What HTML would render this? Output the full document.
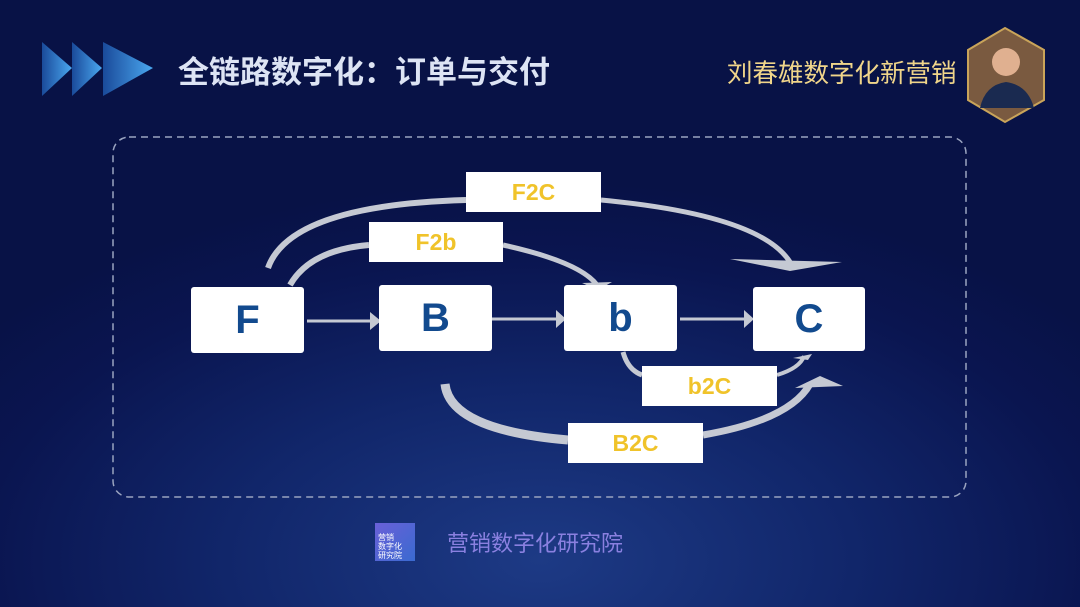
<!DOCTYPE html>
<html><head><meta charset="utf-8"><style>
*{margin:0;padding:0;box-sizing:border-box}
body{width:1080px;height:607px;overflow:hidden;position:relative;font-family:"Liberation Sans","Noto Sans CJK SC",sans-serif;
background:radial-gradient(ellipse 700px 380px at 540px 560px,#1d3a85 0%,#11266a 45%,#0a1550 80%,#081246 100%);}
.box{position:absolute;background:#fff;border-radius:3px;display:flex;align-items:center;justify-content:center;color:#124a8e;font-weight:bold;font-size:40px}
.lab{position:absolute;background:#fff;display:flex;align-items:center;justify-content:center;color:#f0c32a;font-weight:bold;font-size:23px}
.t{position:absolute;white-space:nowrap}
</style></head><body>
<svg width="1080" height="607" style="position:absolute;left:0;top:0">
<defs><linearGradient id="ch" x1="0" x2="1"><stop offset="0" stop-color="#1a4a9a"/><stop offset="1" stop-color="#4aa8f0"/></linearGradient></defs>
<polygon points="42,42 72,68 42,96" fill="url(#ch)"/>
<polygon points="72,42 102,68 72,96" fill="url(#ch)"/>
<polygon points="103,42 153,68 103,96" fill="url(#ch)"/>
<polygon points="1005,28 1044,50 1044,100 1005,122 968,100 968,50" fill="#7a5a40" stroke="#c9a45a" stroke-width="2"/>
<circle cx="1006" cy="62" r="14" fill="#e0b090"/>
<path d="M980,108 Q985,85 1006,82 Q1028,85 1034,108 Z" fill="#1a2a50"/>
<rect x="113" y="137" width="853" height="360" rx="16" fill="none" stroke="#9aa4c0" stroke-width="1.5" stroke-dasharray="7,5"/>
<g fill="none" stroke="#c5c9d3" stroke-linecap="butt">
<path d="M268,268 Q290,205 466,200" stroke-width="6"/>
<path d="M601,200 Q760,215 790,262" stroke-width="5"/>
<path d="M290,285 Q310,250 369,245" stroke-width="6"/>
<path d="M503,245 Q580,262 597,285" stroke-width="5"/>
<path d="M623,352 Q628,370 642,375" stroke-width="5"/>
<path d="M777,375 Q800,368 804,356" stroke-width="4"/>
<path d="M445,384 Q450,430 568,440" stroke-width="9"/>
<path d="M703,435 Q790,420 810,384" stroke-width="7"/>
<g stroke-width="3"><line x1="307" y1="321" x2="372" y2="321"/><line x1="492" y1="319" x2="556" y2="319"/><line x1="680" y1="319" x2="745" y2="319"/></g>
</g>
<g fill="#c5c9d3">
<polygon points="730,259 842,262 790,271"/>
<polygon points="370,312 381,321 370,330"/>
<polygon points="556,310 566,319 556,328"/>
<polygon points="744,310 754,319 744,328"/>
<polygon points="582,283 612,282 598,290"/>
<polygon points="793,358 812,354 808,360"/>
<polygon points="795,388 820,376 843,386"/>
</g>
</svg>
<div class="t" style="left:178px;top:47px;font-size:31px;font-weight:bold;color:#dde4f4">全链路数字化：订单与交付</div>
<div class="t" style="left:727px;top:53px;font-size:25.5px;color:#f0d58a">刘春雄数字化新营销</div>
<div class="box" style="left:191px;top:287px;width:113px;height:66px">F</div>
<div class="box" style="left:379px;top:285px;width:113px;height:66px">B</div>
<div class="box" style="left:564px;top:285px;width:113px;height:66px">b</div>
<div class="box" style="left:753px;top:287px;width:112px;height:64px">C</div>
<div class="lab" style="left:466px;top:172px;width:135px;height:40px">F2C</div>
<div class="lab" style="left:369px;top:222px;width:134px;height:40px">F2b</div>
<div class="lab" style="left:642px;top:366px;width:135px;height:40px">b2C</div>
<div class="lab" style="left:568px;top:423px;width:135px;height:40px">B2C</div>
<div style="position:absolute;left:375px;top:523px;width:40px;height:38px;background:linear-gradient(135deg,#6a60d8,#3a6ad0)"></div>
<div class="t" style="left:378px;top:533px;font-size:8px;line-height:9px;color:#fff">营销<br>数字化<br>研究院</div>
<div class="t" style="left:447px;top:526px;font-size:22px;color:#8a80e0">营销数字化研究院</div>
</body></html>
